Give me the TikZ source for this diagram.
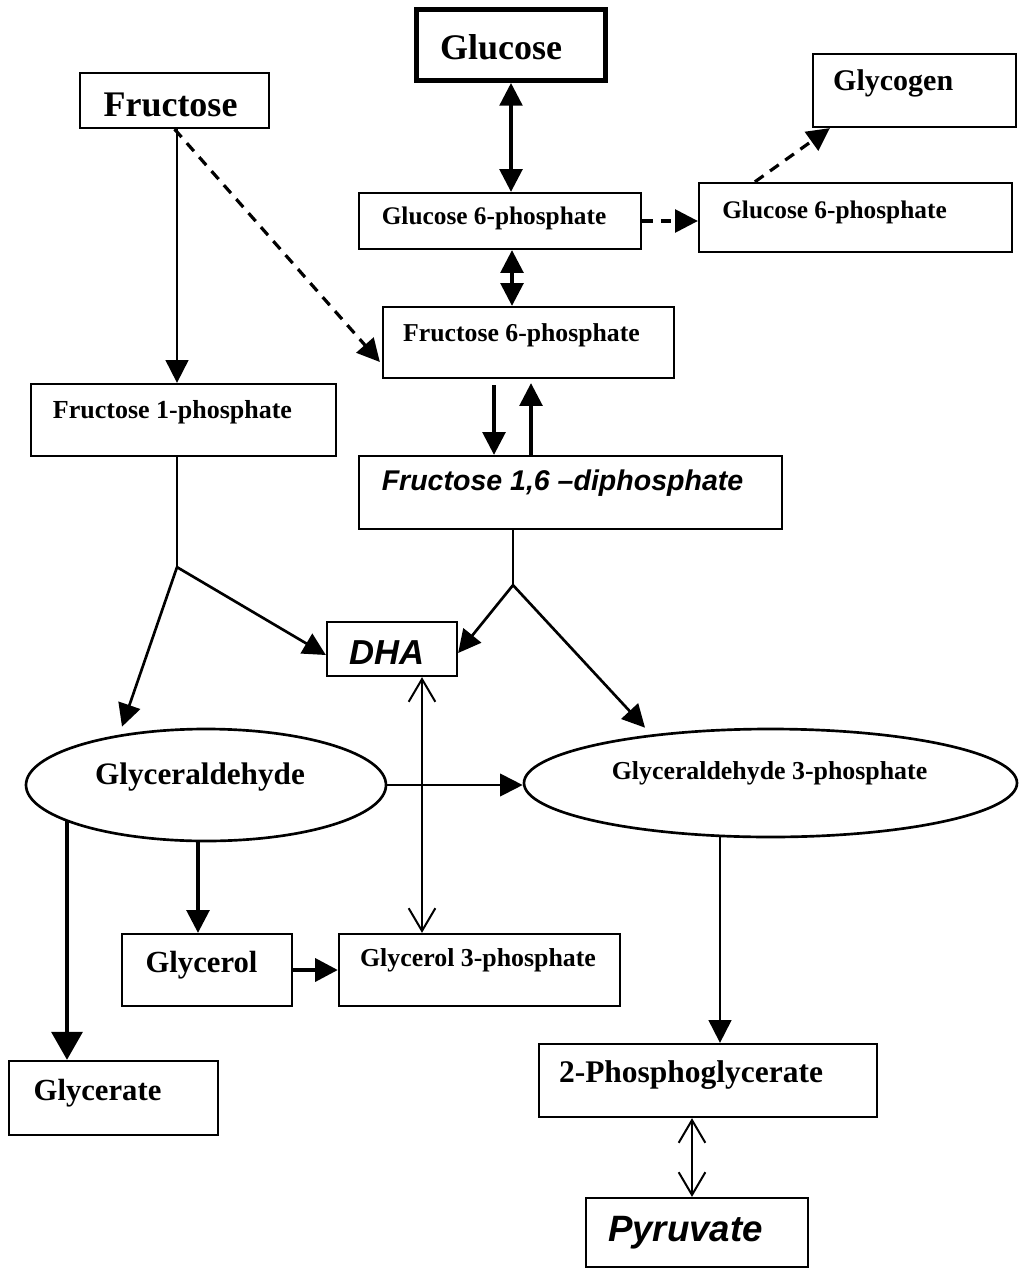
\documentclass[tikz,border=0pt]{standalone}
\usepackage{fontspec}
\setmainfont{Liberation Serif}
\newfontfamily\arialfont{Liberation Sans}
\usetikzlibrary{arrows.meta,calc,shapes.geometric}
\begin{document}
\begin{tikzpicture}[x=0.75pt,y=-0.75pt,
  box/.style={draw, line width=1.7pt, inner sep=0pt},
  oval/.style={draw, ellipse, line width=2pt, inner sep=0pt},
  serif/.style={font=\bfseries\fontsize{#1}{#1}\selectfont, inner sep=0pt},
  sansit/.style={font=\arialfont\bfseries\itshape\fontsize{#1}{#1}\selectfont, inner sep=0pt},
  link/.style={line width=2.5pt},
  jl/.style={line width=2pt},
  thinlink/.style={line width=1.5pt},
  dashedlink/.style={line width=2.4pt, dash pattern=on 8pt off 6pt},
  tri/.tip={Triangle[length=17pt,width=17pt]},
  bigtri/.tip={Triangle[length=21pt,width=23pt]},
  myb/.tip={Straight Barb[length=17pt,width=20pt]},
  >={Triangle[length=17pt,width=17pt]},
]
\fill[white] (0,0) rectangle (1026,1273);
\useasboundingbox (0,0) rectangle (1026,1273);

% boxes
\node[box, line width=3.75pt, minimum width=141.75pt, minimum height=53.25pt,
  label={[serif=27pt,xshift=-7.5pt,yshift=-1.5pt]center:Glucose}] (glucose) at (511,45) {};
\node[box, minimum width=141.75pt, minimum height=41.25pt,
  label={[serif=27pt,xshift=-3pt,yshift=-3.4pt]center:Fructose}] (fructose) at (174.5,100.5) {};
\node[box, minimum width=152.25pt, minimum height=54.75pt,
  label={[serif=22.5pt,xshift=-16pt,yshift=5pt]center:Glycogen}] (glycogen) at (914.5,90.5) {};
\node[box, minimum width=211.5pt, minimum height=42pt,
  label={[serif=19pt,xshift=-4.5pt,yshift=2.25pt]center:Glucose 6-phosphate}] (g6p) at (500,221) {};
\node[box, minimum width=234.75pt, minimum height=51.75pt,
  label={[serif=19pt,xshift=-15.75pt,yshift=4.1pt]center:Glucose 6-phosphate}] (g6pr) at (855.5,217.5) {};
\node[box, minimum width=228.75pt, minimum height=54pt,
  label={[serif=19.5pt,xshift=-8.25pt,yshift=6pt]center:Fructose 1-phosphate}] (f1p) at (183.5,420) {};
\node[box, minimum width=218.25pt, minimum height=53.25pt,
  label={[serif=19.3pt,xshift=-5.25pt,yshift=5.6pt]center:Fructose 6-phosphate}] (f6p) at (528.5,342.5) {};
\node[box, minimum width=317.25pt, minimum height=54.75pt,
  label={[sansit=21.4pt,xshift=-6pt,yshift=7.1pt]center:{Fructose 1,6 –diphosphate}}] (f16) at (570.5,492.5) {};
\node[box, minimum width=97.5pt, minimum height=40.5pt,
  label={[sansit=26pt,xshift=-3.4pt,yshift=-3pt]center:DHA}] (dha) at (392,649) {};
\node[oval, minimum width=270pt, minimum height=84pt,
  label={[serif=23.4pt,xshift=-4.5pt,yshift=6pt]center:Glyceraldehyde}] (ga) at (206,785) {};
\node[oval, minimum width=369.75pt, minimum height=81pt,
  label={[serif=19.4pt,xshift=-0.75pt,yshift=7.5pt]center:Glyceraldehyde 3-phosphate}] (g3p) at (770.5,783) {};
\node[box, minimum width=127.5pt, minimum height=54pt,
  label={[serif=23pt,xshift=-4.1pt,yshift=3.75pt]center:Glycerol}] (glycerol) at (207,970) {};
\node[box, minimum width=210.75pt, minimum height=54pt,
  label={[serif=19.4pt,xshift=-1.1pt,yshift=7.5pt]center:Glycerol 3-phosphate}] (gl3p) at (479.5,970) {};
\node[box, minimum width=156.75pt, minimum height=55.5pt,
  label={[serif=23pt,xshift=-12pt,yshift=3.75pt]center:Glycerate}] (glycerate) at (113.5,1098) {};
\node[box, minimum width=253.5pt, minimum height=54.75pt,
  label={[serif=23.6pt,xshift=-12.75pt,yshift=4.1pt]center:2-Phosphoglycerate}] (pg2) at (708,1080.5) {};
\node[box, minimum width=166.5pt, minimum height=51.75pt,
  label={[sansit=27.5pt,xshift=-8.6pt,yshift=0pt]center:Pyruvate}] (pyr) at (697,1232.5) {};

% helper coordinates
\coordinate (gg) at ($(g6p.south)+(12,0)$);
\coordinate (gy1) at ($(g6pr.north west)+(57,0)$);
\coordinate (gy2) at ($(glycogen.south west)+(18,0)$);
\coordinate (fr1) at ($(fructose.south)+(2.5,0)$);
\coordinate (f6in) at ($(f6p.west)+(-2,19.5)$);
\coordinate (fd1) at ($(f6p.south)+(-34.5,6)$);
\coordinate (fu1) at ($(f16.north)+(-39.5,0)$);
\coordinate (fu2) at ($(f6p.south)+(2.5,4)$);
\coordinate (f1pb) at ($(f1p.south)+(-6.5,0)$);
\coordinate (j1) at ($(f1pb)+(0,110)$);
\coordinate (f16b) at ($(f16.south)+(-57.5,0)$);
\coordinate (j2) at ($(f16b)+(0,55)$);
\coordinate (dv) at ($(dha.south)+(30,0)$);
\coordinate (gab) at ($(ga.center)+(-139,36)$);
\coordinate (gac) at ($(ga.south)+(-8,0)$);
\coordinate (g3b) at ($(g3p.south)+(-50.5,-1)$);
\coordinate (pv) at ($(pg2.south)+(-16,0)$);

% connectors
\draw[link,<->] (glucose.south) -- (glucose.south |- g6p.north);
\draw[link,<->] (gg) -- (gg |- f6p.north);
\draw[dashedlink,->] (g6p.east) -- (g6p.east -| g6pr.west);
\draw[dashedlink,->] (gy1) -- (gy2);
\draw[thinlink,->] (fr1) -- (fr1 |- f1p.north);
\draw[dashedlink,->] (fructose.south) -- (f6in);
\draw[link,->] (fd1) -- (fd1 |- f16.north);
\draw[link,->] (fu1) -- (fu2);
\draw[jl] (f1pb) -- (j1);
\draw[jl,->] (j1) -- ($(ga.north)+(-84,-1)$);
\draw[jl,->] (j1) -- ($(dha.west)+(0,6)$);
\draw[jl] (f16b) -- (j2);
\draw[jl,->] (j2) -- ($(dha.east)+(0,4)$);
\draw[jl,->] (j2) -- ($(g3p.north)+(-125.5,0)$);
\draw[thinlink,myb-myb] (dv) -- (dv |- gl3p.north);
\draw[thinlink,->] (ga.east) -- (ga.east -| g3p.west);
\draw[line width=3.2pt,-bigtri] (gab) -- (gab |- glycerate.north);
\draw[link,->] (gac) -- (gac |- glycerol.north);
\draw[line width=3.2pt,->] (glycerol.east) -- (glycerol.east -| gl3p.west);
\draw[thinlink,->] (g3b) -- (g3b |- pg2.north);
\draw[thinlink,myb-myb] (pv) -- (pv |- pyr.north);
\end{tikzpicture}
\end{document}
